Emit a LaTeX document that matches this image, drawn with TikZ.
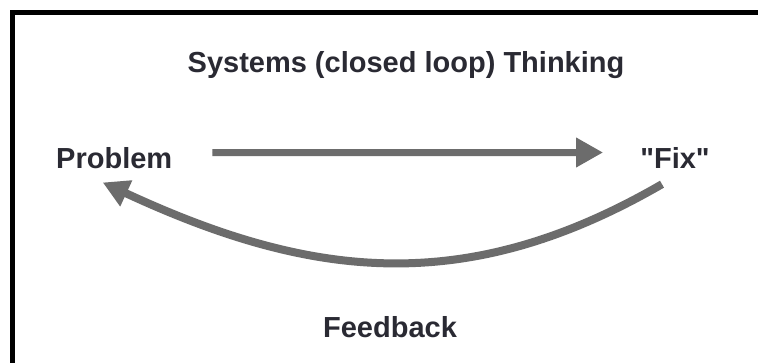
\documentclass[tikz,border=0pt]{standalone}
\usepackage{fontspec}
\newfontfamily\libsans{Liberation Sans}
\usetikzlibrary{arrows.meta}
\definecolor{txt}{HTML}{2A2A33}
\definecolor{arrgray}{HTML}{6C6C6C}
\begin{document}
\begin{tikzpicture}[x=1pt,y=-1pt,
  lbl/.style={inner sep=0pt, text=txt, font=\libsans\fontsize{29}{34}\selectfont\bfseries},
  arr/.style={draw=arrgray, line width=7pt, -{Triangle[length=27pt,width=28pt]}, fill=arrgray},
  arrc/.style={draw=arrgray, line width=8pt, -{Triangle[length=26pt,width=27pt]}}]
\useasboundingbox (0,0) rectangle (758,363);
\fill[white] (0,0) rectangle (758,363);
\draw[line width=4.5pt, line join=miter] (12.5,370) -- (12.5,12.5) -- (765,12.5);
\node[lbl, anchor=base] (title) at (406,73) {Systems (closed loop) Thinking};
\node[lbl, anchor=base west] (problem) at (56,169) {Problem};
\node[lbl, anchor=base] (fix) at (675,169) {"Fix"};
\node[lbl, anchor=base] (feedback) at (390,338) {Feedback};
\draw[arr] ([xshift=40pt,yshift=6pt]problem.east) -- ([xshift=-37pt,yshift=6pt]fix.west);
\draw[arrc] ([xshift=-13pt,yshift=-15pt]fix.south) .. controls +(-197,114) and +(207,96) .. ([xshift=-11.5pt,yshift=-13pt]problem.south);
\end{tikzpicture}
\end{document}
